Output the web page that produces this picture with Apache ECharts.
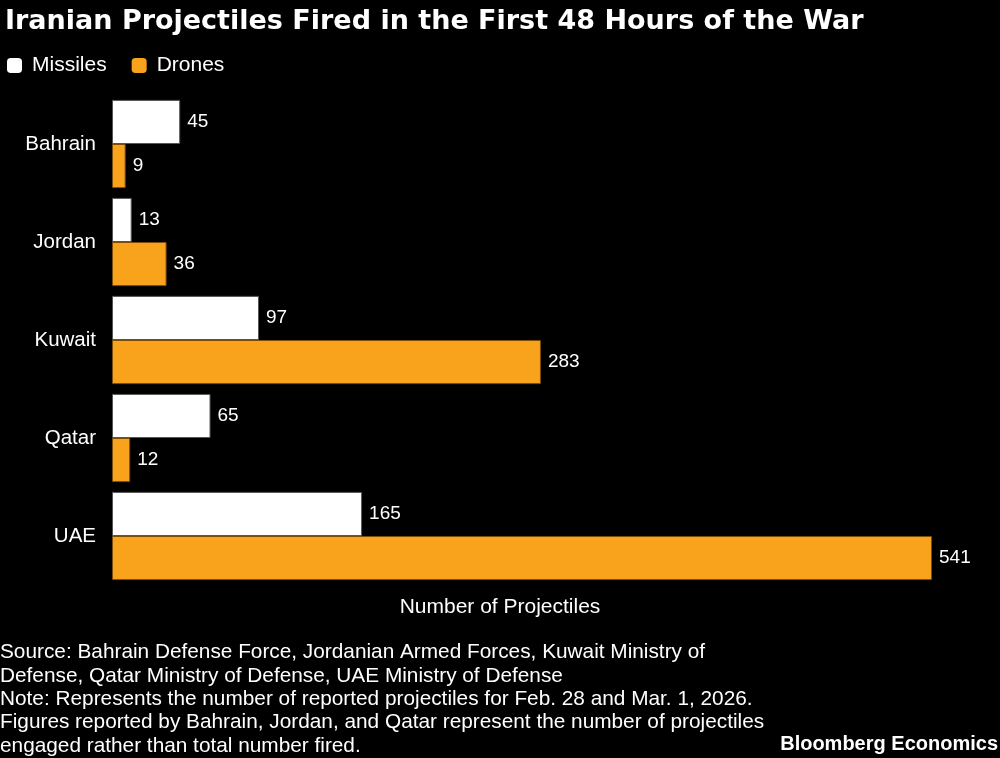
<!DOCTYPE html>
<html><head><meta charset="utf-8">
<script src="https://cdn.jsdelivr.net/npm/echarts@6/dist/echarts.min.js"></script>
<style>html,body{margin:0;padding:0;background:#000;}#c{width:1000px;height:758px;}</style>
</head><body><div id="c"></div>
<script>
const categories = ['Bahrain', 'Jordan', 'Kuwait', 'Qatar', 'UAE'];
const missiles = [45, 13, 97, 65, 165];
const drones = [9, 36, 283, 12, 541];
const seriesNames = ['Missiles', 'Drones'];
const titleText = 'Iranian Projectiles Fired in the First 48 Hours of the War';
const axisTitle = 'Number of Projectiles';
const footnote = 'Source: Bahrain Defense Force, Jordanian Armed Forces, Kuwait Ministry of\nDefense, Qatar Ministry of Defense, UAE Ministry of Defense\nNote: Represents the number of reported projectiles for Feb. 28 and Mar. 1, 2026.\nFigures reported by Bahrain, Jordan, and Qatar represent the number of projectiles\nengaged rather than total number fired.';
const brand = 'Bloomberg Economics';

const FONT = '"Liberation Sans", Arial, sans-serif';
const chart = echarts.init(document.getElementById('c'), null, {renderer: 'canvas'});
const labelStyle = {show: true, position: 'right', distance: 7, color: '#fff', fontSize: 19, fontFamily: FONT};
chart.setOption({
  backgroundColor: '#000',
  animation: false,
  title: {
    text: titleText, left: 0, top: 3,
    textStyle: {color: '#fff', fontSize: 27, fontWeight: 'bold', fontFamily: '"DejaVu Sans", sans-serif'}
  },
  legend: {
    data: seriesNames, left: 2, top: 50, icon: 'roundRect', itemWidth: 15, itemHeight: 15, itemGap: 25,
    itemStyle: {borderWidth: 0},
    textStyle: {color: '#fff', fontSize: 21, fontFamily: FONT, padding: [0, 0, 0, 5]}
  },
  grid: {left: 112, right: 68, top: 95, bottom: 173, containLabel: false},
  xAxis: {type: 'value', min: 0, max: 541, show: false},
  yAxis: {
    type: 'category', data: categories, inverse: true,
    axisLine: {show: false}, axisTick: {show: false},
    axisLabel: {color: '#fff', fontSize: 20.5, fontFamily: FONT, margin: 16}
  },
  series: [
    {name: seriesNames[0], type: 'bar', data: missiles, barGap: '0%', barCategoryGap: '10%',
     itemStyle: {color: '#ffffff', borderColor: '#555', borderWidth: 1}, label: labelStyle},
    {name: seriesNames[1], type: 'bar', data: drones, barGap: '0%', barCategoryGap: '10%',
     itemStyle: {color: '#f9a31c', borderColor: '#7a4e08', borderWidth: 1}, label: labelStyle}
  ],
  graphic: [
    {type: 'text', left: 'center', top: 597, style: {text: axisTitle, fill: '#fff', fontSize: 21, fontFamily: FONT}},
    {type: 'text', left: 0, top: 641, style: {text: footnote, fill: '#fff', fontSize: 20.8, lineHeight: 23.3, fontFamily: FONT}},
    {type: 'text', right: 2, top: 734, style: {text: brand, fill: '#fff', fontSize: 20, fontWeight: 'bold', fontFamily: FONT}}
  ]
});
</script></body></html>
